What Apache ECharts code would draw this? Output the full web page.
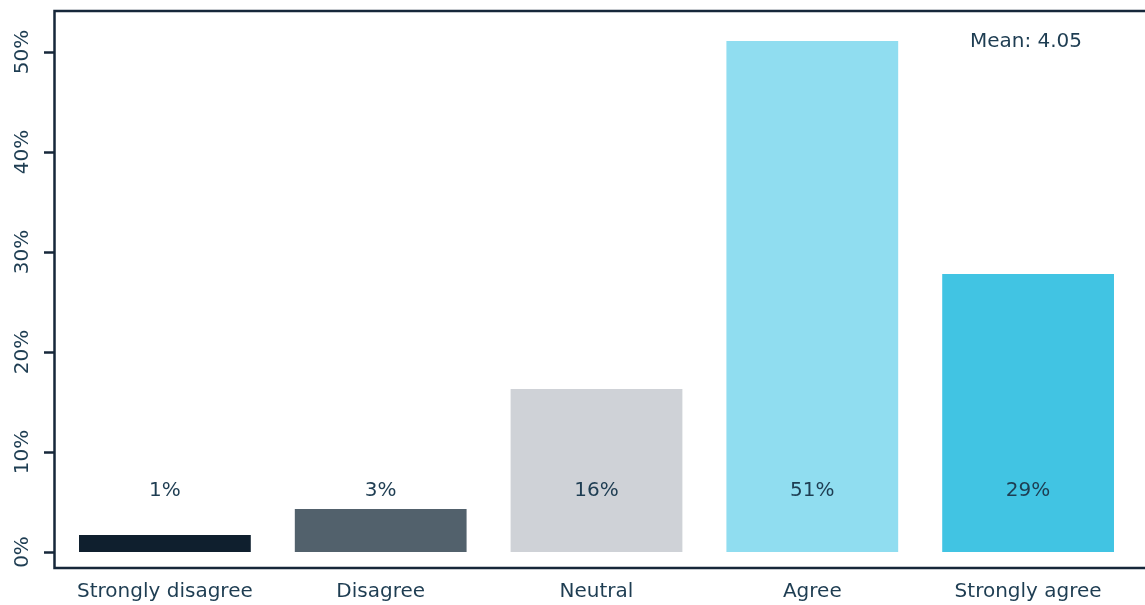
<!DOCTYPE html>
<html><head><meta charset="utf-8">
<script src="https://cdn.jsdelivr.net/npm/echarts@6/dist/echarts.min.js"></script>
<style>html,body{margin:0;padding:0;background:#fff}#c{width:1145px;height:605px}</style>
</head><body><div id="c"></div>
<script>
const categories = ["Strongly disagree", "Disagree", "Neutral", "Agree", "Strongly agree"];
const values = [1.7, 4.3, 16.3, 51.1, 27.8];
const valueLabels = ["1%", "3%", "16%", "51%", "29%"];
const barColors = ["#0f1f2e", "#52616c", "#cfd2d7", "#90ddf0", "#41c4e3"];
const yTicks = [0, 10, 20, 30, 40, 50];
const meanText = "Mean: 4.05";

const FONT = "DejaVu Sans";
const TXT = "#1e3d52";
const LINE = "#16273a";

const chart = echarts.init(document.getElementById('c'), null, {renderer: 'canvas'});
chart.setOption({
  animation: false,
  grid: {left: 57, right: 9, top: 12, bottom: 53},
  xAxis: {
    type: 'category', data: categories,
    axisLine: {show: false}, axisTick: {show: false},
    axisLabel: {interval: 0, color: TXT, fontFamily: FONT, fontSize: 20, margin: 30}
  },
  yAxis: {
    type: 'value', min: 0, max: 54, offset: 3,
    splitLine: {show: false},
    axisLine: {show: false},
    axisTick: {show: true, length: 10, inside: false, customValues: yTicks, lineStyle: {color: LINE, width: 2.5}},
    axisLabel: {customValues: yTicks, rotate: 90, margin: 21, color: TXT, fontFamily: FONT, fontSize: 20,
      formatter: v => v + '%'}
  },
  series: [{
    type: 'bar', barCategoryGap: '20.4%',
    data: values.map((v, i) => ({value: v, itemStyle: {color: barColors[i]}})),
    label: {show: true, position: 'insideBottom', distance: 51, color: TXT, fontFamily: FONT, fontSize: 20,
      formatter: p => valueLabels[p.dataIndex]}
  }],
  graphic: [
    {type: 'rect', shape: {x: 54.5, y: 11, width: 1120, height: 557}, style: {fill: null, stroke: LINE, lineWidth: 2.5}, silent: true},
    {type: 'text', x: 1026, y: 42, style: {text: meanText, fill: TXT, font: '20px "' + FONT + '"', textAlign: 'center', textVerticalAlign: 'middle'}}
  ]
});
</script></body></html>
